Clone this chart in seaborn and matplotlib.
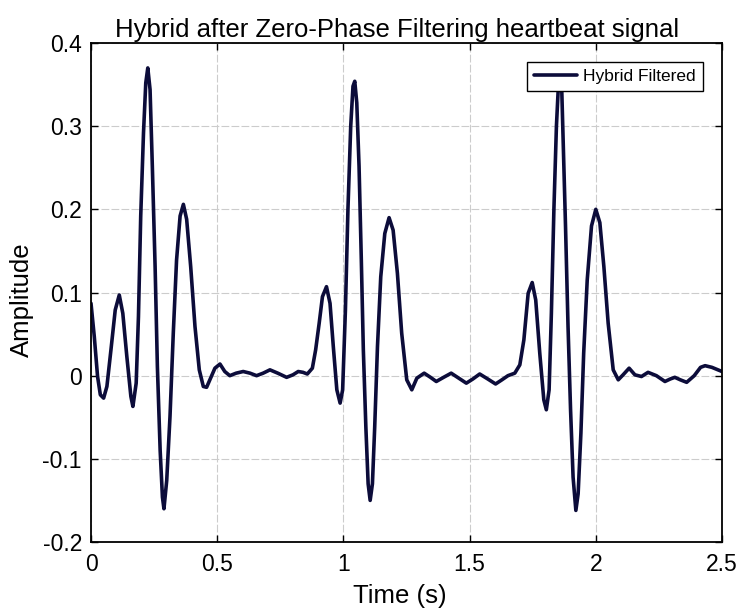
import numpy as np
import pandas as pd
import seaborn as sns
from matplotlib import pyplot as plt

# Values (time in s, amplitude)
time_s = [
    0.000, 0.013, 0.026, 0.037, 0.050, 0.063, 0.079, 0.096, 0.112, 0.126,
    0.142, 0.158, 0.166, 0.179, 0.188, 0.197, 0.208, 0.217, 0.225, 0.234,
    0.243, 0.254, 0.263, 0.274, 0.283, 0.289, 0.300, 0.313, 0.326, 0.339,
    0.353, 0.366, 0.379, 0.395, 0.412, 0.429, 0.445, 0.458, 0.474, 0.491,
    0.511, 0.530, 0.550, 0.575, 0.603, 0.630, 0.656, 0.682, 0.709, 0.740,
    0.775, 0.800, 0.821, 0.840, 0.857, 0.877, 0.890, 0.904, 0.917, 0.933,
    0.947, 0.960, 0.974, 0.987, 0.997, 1.008, 1.018, 1.029, 1.038, 1.045,
    1.053, 1.062, 1.071, 1.079, 1.089, 1.098, 1.106, 1.115, 1.124, 1.135,
    1.148, 1.164, 1.181, 1.197, 1.214, 1.231, 1.251, 1.271, 1.291, 1.320,
    1.345, 1.368, 1.397, 1.427, 1.457, 1.487, 1.513, 1.540, 1.572, 1.603,
    1.628, 1.652, 1.679, 1.699, 1.715, 1.732, 1.748, 1.762, 1.778, 1.794,
    1.804, 1.815, 1.824, 1.834, 1.844, 1.852, 1.858, 1.865, 1.871, 1.880,
    1.890, 1.900, 1.910, 1.921, 1.930, 1.941, 1.952, 1.966, 1.983, 2.000,
    2.016, 2.032, 2.049, 2.069, 2.089, 2.108, 2.132, 2.155, 2.181, 2.207,
    2.240, 2.274, 2.295, 2.313, 2.335, 2.360, 2.390, 2.415, 2.433, 2.460,
    2.492, 2.500,
]
amplitude = [
    0.087, 0.047, -0.001, -0.023, -0.027, -0.013, 0.031, 0.079, 0.097, 0.075,
    0.023, -0.025, -0.037, -0.009, 0.071, 0.192, 0.292, 0.352, 0.370, 0.344,
    0.252, 0.131, 0.011, -0.090, -0.146, -0.160, -0.126, -0.049, 0.051, 0.139,
    0.192, 0.206, 0.188, 0.131, 0.059, 0.007, -0.013, -0.014, -0.003, 0.009,
    0.014, 0.005, 0.000, 0.003, 0.005, 0.003, 0.000, 0.003, 0.007, 0.003,
    -0.002, 0.001, 0.005, 0.004, 0.002, 0.009, 0.031, 0.063, 0.095, 0.107,
    0.087, 0.035, -0.017, -0.033, -0.017, 0.079, 0.200, 0.300, 0.348, 0.354,
    0.328, 0.252, 0.139, 0.031, -0.062, -0.130, -0.150, -0.130, -0.062, 0.035,
    0.119, 0.171, 0.190, 0.175, 0.123, 0.051, -0.005, -0.017, -0.003, 0.003,
    -0.002, -0.007, -0.002, 0.003, -0.003, -0.009, -0.004, 0.002, -0.004, -0.010,
    -0.005, 0.000, 0.003, 0.013, 0.043, 0.099, 0.112, 0.091, 0.027, -0.029,
    -0.041, -0.017, 0.075, 0.200, 0.300, 0.350, 0.368, 0.345, 0.280, 0.180,
    0.059, -0.041, -0.122, -0.162, -0.142, -0.069, 0.027, 0.115, 0.180, 0.200,
    0.184, 0.131, 0.063, 0.007, -0.005, 0.001, 0.009, 0.001, -0.001, 0.004,
    0.000, -0.007, -0.004, -0.002, -0.005, -0.008, 0.000, 0.010, 0.012, 0.010,
    0.006, 0.005,
]
x_ticks = [0, 0.5, 1, 1.5, 2, 2.5]
x_tick_labels = ["0", "0.5", "1", "1.5", "2", "2.5"]
y_ticks = [-0.2, -0.1, 0, 0.1, 0.2, 0.3, 0.4]
y_tick_labels = ["-0.2", "-0.1", "0", "0.1", "0.2", "0.3", "0.4"]

df = pd.DataFrame({"Time (s)": time_s, "Amplitude": amplitude})

sns.set_style("ticks")
plt.rcParams['font.family'] = ['Liberation Sans', 'DejaVu Sans']
plt.rcParams['axes.unicode_minus'] = False
plt.rcParams['text.color'] = 'black'
plt.rcParams['axes.labelcolor'] = 'black'

fig = plt.figure(figsize=(7.4, 6.09), dpi=100)
ax = fig.add_axes([91 / 740, 67 / 609, 631 / 740, 499 / 609])

sns.lineplot(data=df, x="Time (s)", y="Amplitude", ax=ax, color="#0c0c3a",
             linewidth=2.6, label="Hybrid Filtered", sort=False)

ax.set_xlim(0, 2.5)
ax.set_ylim(-0.2, 0.4)
ax.set_xticks(x_ticks)
ax.set_xticklabels(x_tick_labels)
ax.set_yticks(y_ticks)
ax.set_yticklabels(y_tick_labels)

# MATLAB-like grid and inward ticks on all sides
ax.grid(True, color="#cccccc", linestyle=(0, (7, 2)), linewidth=0.8)
ax.set_axisbelow(True)
ax.tick_params(direction="in", length=5, width=1, top=True, right=True,
               labelsize=16.5, colors="black")
ax.tick_params(axis="x", pad=8)
ax.tick_params(axis="y", pad=6.5)
for sp in ax.spines.values():
    sp.set_visible(True)
    sp.set_color("black")
    sp.set_linewidth(1.3)

ax.set_title("Hybrid after Zero-Phase Filtering heartbeat signal", fontsize=18.5,
             pad=4, x=0.485)
ax.set_xlabel("Time (s)", fontsize=18.5, labelpad=5.5)
ax.set_ylabel("Amplitude", fontsize=18.5, labelpad=6)
ax.xaxis.label.set_x(0.49)
ax.yaxis.label.set_y(0.485)

leg = ax.legend(loc="upper right", fontsize=12.5, frameon=True, fancybox=False,
                framealpha=1, edgecolor="black", handlelength=2.5,
                handletextpad=0.35, borderaxespad=1.1, borderpad=0.4)
leg.get_frame().set_linewidth(1.0)

fig.savefig("out.png", dpi=100)
